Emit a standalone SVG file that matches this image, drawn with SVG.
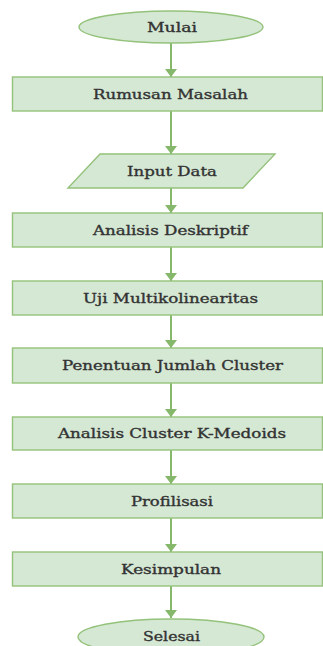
<svg xmlns="http://www.w3.org/2000/svg" width="323" height="646" viewBox="0 0 323 646">
  <defs>
    <style>
      .shape { fill: #d5e8d4; stroke: #94c27b; stroke-width: 1.4; }
      .lbl { font-family: "DejaVu Serif", "Liberation Serif", serif; font-size: 12.5px; fill: #333333; stroke: #333333; stroke-width: 0.35; text-anchor: middle; }
      .conn { stroke: #86b86c; stroke-width: 2; fill: none; marker-end: url(#arr); }
    </style>
    <marker id="arr" viewBox="0 0 8 12" markerWidth="8" markerHeight="12" refX="8" refY="6" orient="auto" markerUnits="userSpaceOnUse">
      <path d="M0,0 L8,6 L0,12 z" fill="#86b86c"/>
    </marker>
  </defs>
  <rect width="323" height="646" fill="#ffffff"/>

  <g id="connectors">
    <line class="conn" x1="171" y1="43" x2="171" y2="77"/>
    <line class="conn" x1="171" y1="111" x2="171" y2="154"/>
    <line class="conn" x1="171" y1="188" x2="171" y2="213"/>
    <line class="conn" x1="171" y1="247" x2="171" y2="281"/>
    <line class="conn" x1="171" y1="315" x2="171" y2="348"/>
    <line class="conn" x1="171" y1="383" x2="171" y2="417"/>
    <line class="conn" x1="171" y1="450" x2="171" y2="484"/>
    <line class="conn" x1="171" y1="518" x2="171" y2="552"/>
    <line class="conn" x1="171" y1="586" x2="171" y2="618"/>
  </g>

  <g id="mulai">
    <ellipse class="shape" cx="171" cy="27" rx="92" ry="16"/>
    <text class="lbl" x="172" y="31.5" textLength="50" lengthAdjust="spacingAndGlyphs">Mulai</text>
  </g>
  <g id="rumusan">
    <rect class="shape" x="12.5" y="77" width="310" height="34"/>
    <text class="lbl" x="170.5" y="98.5" textLength="155" lengthAdjust="spacingAndGlyphs">Rumusan Masalah</text>
  </g>
  <g id="input">
    <polygon class="shape" points="100,154 275,154 243,188 68,188"/>
    <text class="lbl" x="172" y="175.5" textLength="90" lengthAdjust="spacingAndGlyphs">Input Data</text>
  </g>
  <g id="deskriptif">
    <rect class="shape" x="12.5" y="213" width="310" height="34"/>
    <text class="lbl" x="170.5" y="234.5" textLength="155" lengthAdjust="spacingAndGlyphs">Analisis Deskriptif</text>
  </g>
  <g id="uji">
    <rect class="shape" x="12.5" y="281" width="310" height="34"/>
    <text class="lbl" x="170.5" y="302.5" textLength="175" lengthAdjust="spacingAndGlyphs">Uji Multikolinearitas</text>
  </g>
  <g id="penentuan">
    <rect class="shape" x="12.5" y="348" width="310" height="35"/>
    <text class="lbl" x="172.5" y="370" textLength="221" lengthAdjust="spacingAndGlyphs">Penentuan Jumlah Cluster</text>
  </g>
  <g id="kmedoids">
    <rect class="shape" x="12.5" y="417" width="310" height="33"/>
    <text class="lbl" x="172" y="438" textLength="228" lengthAdjust="spacingAndGlyphs">Analisis Cluster K-Medoids</text>
  </g>
  <g id="profilisasi">
    <rect class="shape" x="12.5" y="484" width="310" height="34"/>
    <text class="lbl" x="172" y="505.5" textLength="82" lengthAdjust="spacingAndGlyphs">Profilisasi</text>
  </g>
  <g id="kesimpulan">
    <rect class="shape" x="12.5" y="552" width="310" height="34"/>
    <text class="lbl" x="171" y="573.5" textLength="100" lengthAdjust="spacingAndGlyphs">Kesimpulan</text>
  </g>
  <g id="selesai">
    <ellipse class="shape" cx="171" cy="637" rx="93" ry="18"/>
    <text class="lbl" x="171.5" y="640.5" textLength="57" lengthAdjust="spacingAndGlyphs">Selesai</text>
  </g>
</svg>
